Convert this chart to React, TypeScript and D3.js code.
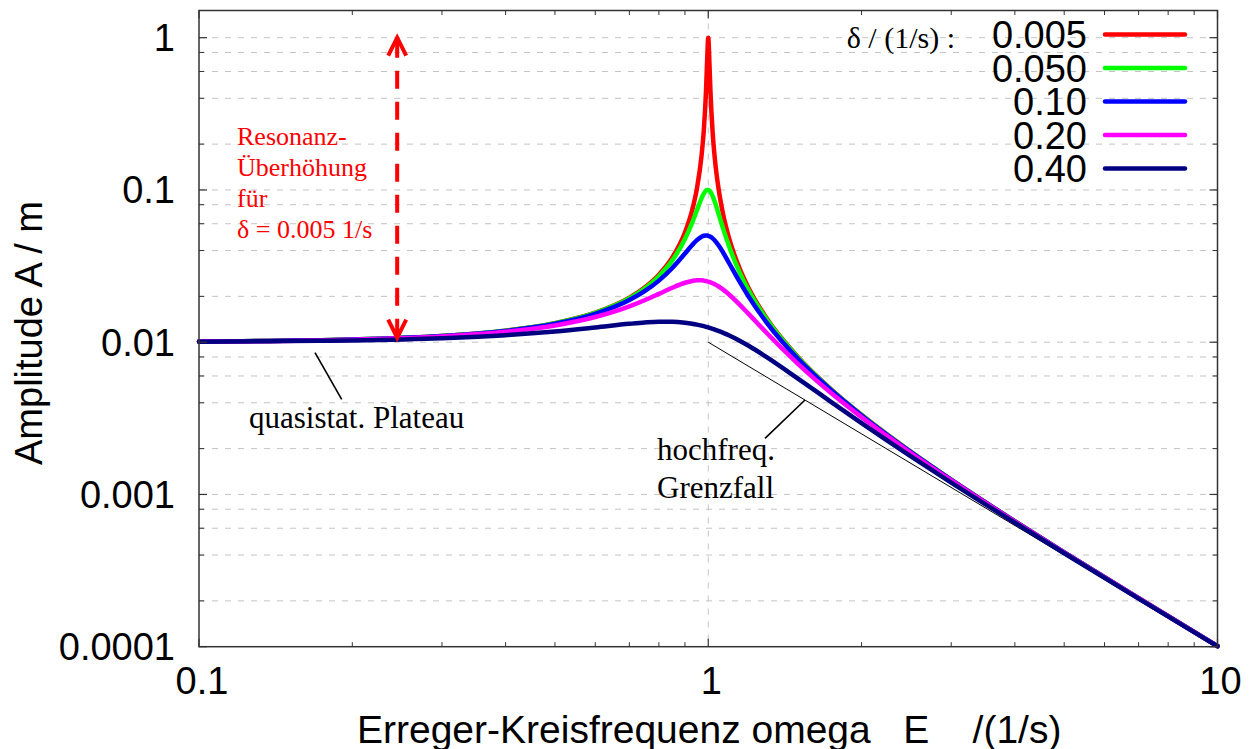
import React from "react";
import * as d3 from "d3";

// ---------- data ----------
const omega = [
  0.1, 0.2, 0.3, 0.4, 0.5, 0.6, 0.7, 0.75, 0.8, 0.85, 0.9, 0.93, 0.95, 0.97, 0.98, 0.99, 0.995, 1.0,
  1.005, 1.01, 1.02, 1.03, 1.05, 1.07, 1.1, 1.15, 1.2, 1.3, 1.5, 1.75, 2, 2.5, 3, 4, 5, 7, 10,
];

const ampD0005 = [
  0.010101, 0.010417, 0.010989, 0.011905, 0.013333, 0.015625, 0.019608, 0.022857, 0.027778, 0.036036,
  0.052573, 0.07384, 0.10208, 0.16697, 0.24515, 0.44993, 0.70977, 1.0, 0.70447, 0.44456, 0.24001,
  0.1619, 0.09706, 0.06883, 0.04755, 0.031008, 0.022727, 0.014493, 0.008, 0.0048485, 0.0033333,
  0.0019048, 0.00125, 0.00066667, 0.00041667, 0.00020833, 0.00010101,
];
const ampD005 = [
  0.0101, 0.010414, 0.010983, 0.011891, 0.013304, 0.015557, 0.019426, 0.022529, 0.027116, 0.034455,
  0.047565, 0.06097, 0.07346, 0.088037, 0.09461, 0.09903, 0.1, 0.1, 0.099012, 0.097106, 0.091151,
  0.083571, 0.068149, 0.055516, 0.042182, 0.029206, 0.021926, 0.014242, 0.007943, 0.0048311, 0.0033259,
  0.0019026, 0.0012491, 0.00066643, 0.00041658, 0.00020831, 0.000101,
];
const ampD01 = [
  0.010099, 0.010408, 0.010965, 0.011851, 0.013216, 0.015357, 0.018908, 0.021621, 0.025384, 0.030728,
  0.038208, 0.0435, 0.046826, 0.04931, 0.05001, 0.050252, 0.050188, 0.05, 0.04969, 0.049261, 0.048086,
  0.046551, 0.042794, 0.038694, 0.03288, 0.025245, 0.019952, 0.013562, 0.0077791, 0.0047802, 0.0033041,
  0.0018962, 0.0012465, 0.00066572, 0.0004163, 0.00020824, 0.00010099,
];
const ampD02 = [
  0.010093, 0.010381, 0.010895, 0.011695, 0.012883, 0.01463, 0.017188, 0.018851, 0.020761, 0.022786,
  0.024566, 0.025267, 0.02549, 0.025479, 0.025381, 0.025221, 0.025117, 0.025, 0.024868, 0.024722,
  0.024391, 0.024011, 0.023131, 0.022131, 0.020511, 0.0178, 0.015357, 0.011574, 0.0072122, 0.0045913,
  0.0032208, 0.0018711, 0.0012362, 0.00066291, 0.00041523, 0.00020798, 0.00010093,
];
const ampD04 = [
  0.010068, 0.010275, 0.010626, 0.011125, 0.011765, 0.0125, 0.013202, 0.013467, 0.013618, 0.013616,
  0.013429, 0.013225, 0.013051, 0.012849, 0.012739, 0.012622, 0.012562, 0.0125, 0.012437, 0.012372,
  0.01224, 0.012103, 0.011817, 0.011518, 0.011053, 0.010258, 0.0094694, 0.0080123, 0.0057711,
  0.0040116, 0.0029412, 0.00178, 0.0011973, 0.000652, 0.000411, 0.00020693, 0.00010068,
];

const dampingLabels = ["0.005", "0.050", "0.10", "0.20", "0.40"];
const seriesAmps = [ampD0005, ampD005, ampD01, ampD02, ampD04];
const seriesColors = ["#ff0000", "#00ff00", "#0000ff", "#ff00ff", "#000080"];

const xTickValues = [0.1, 1, 10];
const xTickLabels = ["0.1", "1", "10"];
const yTickValues = [0.0001, 0.001, 0.01, 0.1, 1];
const yTickLabels = ["0.0001", "0.001", "0.01", "0.1", "1"];

// annotations (data coordinates)
const arrowX = 0.245;
const arrowTop = 1;
const arrowBottom = 0.0107;
const asymptote = [
  [1, 0.01],
  [10, 0.0001],
];

// ---------- layout ----------
const W = 1253;
const H = 749;
const L = 199;
const R = 1217.5;
const T = 10.5;
const B = 646.7;
const SANS = "'Liberation Sans', Arial, Helvetica, sans-serif";
const SERIF = "'Liberation Serif', 'Times New Roman', serif";

export default function App() {
  const x = d3.scaleLog().domain([0.1, 10]).range([L, R]);
  const y = d3.scaleLog().domain([1e-4, 1]).range([B, 37.7]);

  const line = d3
    .line<[number, number]>()
    .x((d) => x(d[0]))
    .y((d) => y(d[1]))
    .curve(d3.curveMonotoneX);

  const series = seriesAmps.map((amps, i) => ({
    label: dampingLabels[i],
    color: seriesColors[i],
    pts: omega.map((w, j) => [w, amps[j]] as [number, number]),
  }));

  // grid & minor ticks
  const yMinor: number[] = [];
  const yGrid: number[] = [];
  for (let k = -4; k <= -1; k++) {
    for (const m of [2, 4, 6, 8]) {
      yMinor.push(m * Math.pow(10, k));
      yGrid.push(m * Math.pow(10, k));
    }
    if (k > -4) yGrid.push(Math.pow(10, k));
  }
  yGrid.push(1);
  const xMinor: number[] = [];
  for (const k of [-1, 0]) {
    for (let m = 2; m <= 9; m++) xMinor.push(m * Math.pow(10, k));
  }

  const ax = x(arrowX);
  const aTop = y(arrowTop);
  const aBot = y(arrowBottom);

  const legendRight = 1087;
  const legendBase0 = 48;
  const legendStep = 33.5;

  return (
    <svg
      width={W}
      height={H}
      style={{ position: "absolute", left: 0, top: 0, background: "#fff" }}
    >
      <rect x={0} y={0} width={W} height={H} fill="#fff" />
      {/* horizontal grid */}
      {yGrid.map((v, i) => (
        <line
          key={"gy" + i}
          x1={L}
          x2={R}
          y1={y(v)}
          y2={y(v)}
          stroke="#c4c4c4"
          strokeWidth={1}
          strokeDasharray="6,7"
        />
      ))}
      {/* vertical grid at 1 */}
      <line x1={x(1)} x2={x(1)} y1={T} y2={B} stroke="#c4c4c4" strokeWidth={1} strokeDasharray="6,7" />

      {/* asymptote */}
      <line
        x1={x(asymptote[0][0])}
        y1={y(asymptote[0][1])}
        x2={x(asymptote[1][0])}
        y2={y(asymptote[1][1])}
        stroke="#000"
        strokeWidth={1}
      />

      {/* curves */}
      {series.map((s) => (
        <path
          key={s.label}
          d={line(s.pts) || ""}
          fill="none"
          stroke={s.color}
          strokeWidth={4.5}
          strokeLinejoin="round"
          strokeLinecap="round"
        />
      ))}

      {/* frame */}
      <rect x={L} y={T} width={R - L} height={B - T} fill="none" stroke="#333" strokeWidth={1.5} />

      {/* ticks */}
      {xTickValues.map((v) => (
        <g key={"xt" + v}>
          <line x1={x(v)} x2={x(v)} y1={B} y2={B - 8} stroke="#333" strokeWidth={1.2} />
          <line x1={x(v)} x2={x(v)} y1={T} y2={T + 8} stroke="#333" strokeWidth={1.2} />
        </g>
      ))}
      {xMinor.map((v) => (
        <g key={"xm" + v}>
          <line x1={x(v)} x2={x(v)} y1={B} y2={B - 4.5} stroke="#333" strokeWidth={1} />
          <line x1={x(v)} x2={x(v)} y1={T} y2={T + 4.5} stroke="#333" strokeWidth={1} />
        </g>
      ))}
      {yTickValues.map((v) => (
        <g key={"yt" + v}>
          <line x1={L} x2={L + 8} y1={y(v)} y2={y(v)} stroke="#333" strokeWidth={1.2} />
          <line x1={R} x2={R - 8} y1={y(v)} y2={y(v)} stroke="#333" strokeWidth={1.2} />
        </g>
      ))}
      {yMinor.map((v, i) => (
        <g key={"ym" + i}>
          <line x1={L} x2={L + 5} y1={y(v)} y2={y(v)} stroke="#333" strokeWidth={1} />
          <line x1={R} x2={R - 5} y1={y(v)} y2={y(v)} stroke="#333" strokeWidth={1} />
        </g>
      ))}

      {/* tick labels */}
      {xTickValues.map((v, i) => (
        <text
          key={"xl" + v}
          x={x(v) + 3}
          y={694}
          textAnchor="middle"
          fontFamily={SANS}
          fontSize={38}
          fill="#000"
        >
          {xTickLabels[i]}
        </text>
      ))}
      {yTickValues.map((v, i) => (
        <text
          key={"yl" + v}
          x={175}
          y={y(v) + 13.5}
          textAnchor="end"
          fontFamily={SANS}
          fontSize={38}
          fill="#000"
        >
          {yTickLabels[i]}
        </text>
      ))}

      {/* axis titles */}
      <text
        x={357}
        y={743}
        fontFamily={SANS}
        fontSize={39}
        fill="#000"
        style={{ whiteSpace: "pre" }}
      >
        {"Erreger-Kreisfrequenz omega   E    /(1/s)"}
      </text>
      <text
        transform={`translate(42,333) rotate(-90)`}
        textAnchor="middle"
        fontFamily={SANS}
        fontSize={38}
        fill="#000"
      >
        Amplitude A / m
      </text>

      {/* legend */}
      <text x={955} y={legendBase0} textAnchor="end" fontFamily={SERIF} fontSize={30} fill="#000">
        δ / (1/s) :
      </text>
      {series.map((s, i) => (
        <g key={"lg" + s.label}>
          <text
            x={legendRight}
            y={legendBase0 + i * legendStep}
            textAnchor="end"
            fontFamily={SANS}
            fontSize={38}
            fill="#000"
          >
            {s.label}
          </text>
          <line
            x1={1105}
            x2={1185}
            y1={legendBase0 + i * legendStep - 13.5}
            y2={legendBase0 + i * legendStep - 13.5}
            stroke={s.color}
            strokeWidth={4.5}
            strokeLinecap="round"
          />
        </g>
      ))}

      {/* resonance arrow */}
      <line
        x1={ax}
        x2={ax}
        y1={aTop + 2}
        y2={aBot - 2}
        stroke="#ff0000"
        strokeWidth={4}
        strokeDasharray="18,13"
      />
      <polyline
        points={`${ax - 9},${aTop + 18} ${ax},${aTop} ${ax + 9},${aTop + 18}`}
        fill="none"
        stroke="#ff0000"
        strokeWidth={4}
      />
      <polyline
        points={`${ax - 9},${aBot - 18} ${ax},${aBot} ${ax + 9},${aBot - 18}`}
        fill="none"
        stroke="#ff0000"
        strokeWidth={4}
      />
      <g fontFamily={SERIF} fontSize={26} fill="#ff0000">
        <text x={237} y={145}>Resonanz-</text>
        <text x={237} y={176}>Überhöhung</text>
        <text x={237} y={207}>für</text>
        <text x={237} y={238}>δ = 0.005 1/s</text>
      </g>

      {/* black annotations */}
      <line x1={315} y1={352.7} x2={341.7} y2={399.3} stroke="#000" strokeWidth={1.6} />
      <text x={249} y={428} fontFamily={SERIF} fontSize={31} fill="#000">
        quasistat. Plateau
      </text>
      <line x1={765} y1={438.3} x2={805} y2={400} stroke="#000" strokeWidth={1.6} />
      <text x={657} y={460} fontFamily={SERIF} fontSize={31} fill="#000">
        hochfreq.
      </text>
      <text x={657} y={498} fontFamily={SERIF} fontSize={31} fill="#000">
        Grenzfall
      </text>
    </svg>
  );
}
